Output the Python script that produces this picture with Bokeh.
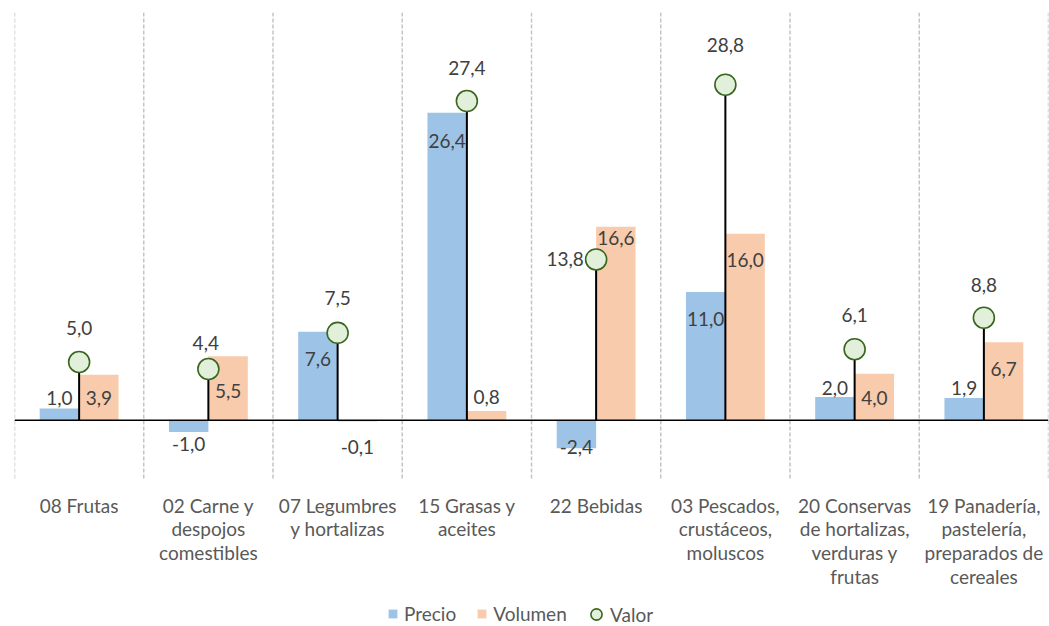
from bokeh.plotting import figure
from bokeh.models import (ColumnDataSource, Legend, LegendItem, Span, Range1d)
from bokeh.core.properties import value
from bokeh.embed import file_html
from bokeh.resources import INLINE

# ---- data ----
categories = ["08 Frutas", "02 Carne y\ndespojos\ncomestibles", "07 Legumbres\ny hortalizas",
              "15 Grasas y\naceites", "22 Bebidas", "03 Pescados,\ncrustáceos,\nmoluscos",
              "20 Conservas\nde hortalizas,\nverduras y\nfrutas",
              "19 Panadería,\npastelería,\npreparados de\ncereales"]
precio = [1.0, -1.0, 7.6, 26.4, -2.4, 11.0, 2.0, 1.9]
volumen = [3.9, 5.5, -0.1, 0.8, 16.6, 16.0, 4.0, 6.7]
valor = [5.0, 4.4, 7.5, 27.4, 13.8, 28.8, 6.1, 8.8]

# ---- data-label placement (annotation layout, in data units) ----
precio_lbl_y = [1.93, -2.02, 5.28, 24.0, -2.3, 8.71, 2.79, 2.79]
volumen_lbl_y = [1.93, 2.53, -2.27, 2.02, 15.67, 13.78, 1.93, 4.42]
valor_lbl_y = [7.94, 6.65, 10.5, 30.26, 13.86, 32.2, 9.06, 11.63]
valor_lbl_dx = [0, -0.02, 0, 0, -0.24, 0, 0, 0]

# plot-area value limits
Y_MIN, Y_MAX = -5, 35

FONT = "Lato"
FS = "19px"
BLUE = "#9DC3E6"
ORANGE = "#F8CBAD"
GREEN_FILL = "#E2EFDA"
GREEN_LINE = "#38661F"
TXT = "#404040"
CAT_TXT = "#595959"

n = len(categories)
xs = [i + 0.5 for i in range(n)]
bw = 0.305
fmt = lambda v: f"{v:.1f}".replace(".", ",")

src = ColumnDataSource(dict(
    x=xs,
    xp=[x - bw / 2 for x in xs],
    xv=[x + bw / 2 for x in xs],
    cat=categories,
    cat_y=[Y_MIN] * n,
    precio=precio, volumen=volumen, valor=valor,
    p_lbl=[fmt(v) for v in precio], v_lbl=[fmt(v) for v in volumen], va_lbl=[fmt(v) for v in valor],
    p_y=precio_lbl_y, v_y=volumen_lbl_y, va_y=valor_lbl_y,
    va_x=[x + d for x, d in zip(xs, valor_lbl_dx)],
))
bounds = list(range(n + 1))
grid_src = ColumnDataSource(dict(x=bounds, y0=[Y_MIN] * len(bounds), y1=[Y_MAX] * len(bounds)))

FRAME_TOP, FRAME_H_PLOT, FIG_H = 12, 466, 626
px_per_unit = FRAME_H_PLOT / (Y_MAX - Y_MIN)
frame_h = FIG_H - FRAME_TOP
y_start = Y_MAX - frame_h / px_per_unit

p = figure(frame_width=1034, frame_height=frame_h, output_backend="svg", toolbar_location=None,
           x_range=Range1d(0, n), y_range=Range1d(y_start, Y_MAX),
           x_axis_location=None, y_axis_location=None,
           min_border_left=14, min_border_right=1, min_border_top=FRAME_TOP, min_border_bottom=0)
p.outline_line_color = None
p.xgrid.visible = False
p.ygrid.visible = False
p.background_fill_color = "white"
p.border_fill_color = "white"

# dashed separators between categories
p.segment(x0="x", y0="y0", x1="x", y1="y1", source=grid_src, line_color="#C4C4C4",
          line_dash="4 2", line_width=1.5)

rb = p.vbar(x="xp", top="precio", width=bw, source=src, fill_color=BLUE, line_color=None)
ro = p.vbar(x="xv", top="volumen", width=bw, source=src, fill_color=ORANGE, line_color=None)

p.add_layout(Span(location=0, dimension="width", line_color="black", line_width=1.5))

p.segment(x0="x", y0=0, x1="x", y1="valor", source=src, line_color="black", line_width=2)
rc = p.scatter(x="x", y="valor", source=src, size=21, fill_color=GREEN_FILL,
               line_color=GREEN_LINE, line_width=1.6)

common = dict(text_align="center", text_baseline="middle", text_font=value(FONT),
              text_font_size=FS, text_color=TXT)
p.text(x="xp", y="p_y", text="p_lbl", source=src, **common)
p.text(x="xv", y="v_y", text="v_lbl", source=src, **common)
p.text(x="va_x", y="va_y", text="va_lbl", source=src, **common)

# category labels (multi-line) below the plot area
p.text(x="x", y="cat_y", text="cat", source=src, text_align="center", text_baseline="top",
       y_offset=15, text_font=value(FONT), text_font_size=FS, text_color=CAT_TXT,
       text_line_height=1.04)

leg_style = dict(orientation="horizontal", label_text_font=FONT, label_text_font_size=FS,
                 label_text_color=CAT_TXT, padding=0, margin=0, border_line_color=None,
                 background_fill_alpha=0)
legend1 = Legend(items=[LegendItem(label="Precio", renderers=[rb]),
                        LegendItem(label="Volumen", renderers=[ro])],
                 location=(373, 1), glyph_width=11, glyph_height=11, label_standoff=6,
                 spacing=20, **leg_style)
legend2 = Legend(items=[LegendItem(label="Valor", renderers=[rc])],
                 location=(568, -2), glyph_width=28, glyph_height=28, label_standoff=0,
                 **leg_style)
p.add_layout(legend1, "center")
p.add_layout(legend2, "center")

open("out.html", "w").write(file_html(p, INLINE))
